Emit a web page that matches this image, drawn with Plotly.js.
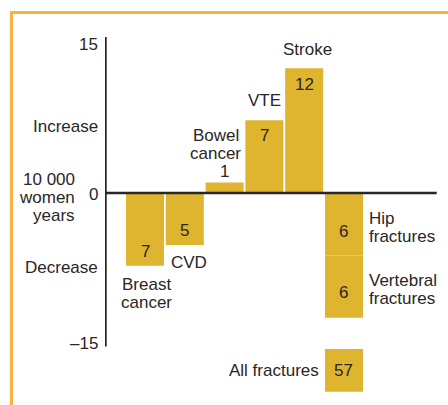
<!DOCTYPE html>
<html><head><meta charset="utf-8">
<script src="https://cdn.plot.ly/plotly-3.0.1.min.js"></script>
<style>html,body{margin:0;padding:0;background:#fff}#chart{width:448px;height:405px}</style>
</head><body><div id="chart"></div>
<script>
// ---- data ----
const categories = ['Breast cancer', 'CVD', 'Bowel cancer', 'VTE', 'Stroke', 'Hip fractures', 'Vertebral fractures'];
const labelLines = [['Breast', 'cancer'], ['CVD'], ['Bowel', 'cancer'], ['VTE'], ['Stroke'], ['Hip', 'fractures'], ['Vertebral', 'fractures']];
const values = [-7, -5, 1, 7, 12, -6, -6];   // events per 10 000 women years (+ increase, - decrease)
const bases = [0, 0, 0, 0, 0, 0, -6];        // vertebral stacked under hip
const positions = [0, 1, 2, 3, 4, 5, 5];
const allFracturesLabel = 'All fractures';
const allFracturesValue = 57;
const yTickVals = [15, 0, -15];
const yTickText = ['15', '0', '–15'];

// ---- style ----
const BAR = '#DFB42E', INK = '#2a2627', FRAME = '#FBB040';
const W = 0.955;
const FONT = {family: 'Liberation Sans, Arial, sans-serif', size: 17, color: INK};
const BOX_BASE = -15, BOX_H = -4.1;

const anns = [];
function ann(text, x, y, xs, ys, xa) {
  anns.push({text: text, x: x, y: y, xref: 'x', yref: 'y', xshift: xs || 0, yshift: ys || 0,
    xanchor: xa || 'center', yanchor: 'middle', showarrow: false, font: FONT, borderpad: 0});
}

// y tick labels
ann(yTickText[0], -1.005, yTickVals[0], -6, -7, 'right');
ann(yTickText[1], -1.005, yTickVals[1], -6, -1, 'right');
ann(yTickText[2], -1.005, yTickVals[2], -6, 5.5, 'right');
// axis side labels
ann('Increase', -1.005, 6.44, -6, 0, 'right');
ann('10 000', -1.005, 0, -29, 14, 'right');
ann('women', -1.005, 0, -29, -4, 'right');
ann('years', -1.005, 0, -29, -22, 'right');
ann('Decrease', -1.005, -7.2, -6, 0, 'right');

// value labels in/at bars
ann(String(Math.abs(values[0])), positions[0], values[0], 0, 14);
ann(String(Math.abs(values[1])), positions[1], values[1], 0, 15);
ann(String(Math.abs(values[2])), positions[2], values[2], 0, 11);
ann(String(Math.abs(values[3])), positions[3], values[3], 0, -15);
ann(String(Math.abs(values[4])), positions[4], values[4], 0, -16);
ann(String(Math.abs(values[5])), positions[5], bases[5] + values[5] / 2, 0, -7);
ann(String(Math.abs(values[6])), positions[6], bases[6] + values[6] / 2, 0, -6);
ann(String(allFracturesValue), positions[6], BOX_BASE + BOX_H / 2, 0, 0);

// category labels
labelLines[0].forEach((t, i) => ann(t, positions[0], values[0], 1, -19 - 18 * i));
ann(labelLines[1][0], positions[1], values[1], 4, -17);
labelLines[2].forEach((t, i) => ann(t, positions[2], values[2], -9, 47.5 - 18 * i));
ann(labelLines[3][0], positions[3], values[3], 0, 20);
ann(labelLines[4][0], positions[4], values[4], 3, 19);
labelLines[5].forEach((t, i) => ann(t, positions[5] + W / 2, bases[5], 5, -25.5 - 18 * i, 'left'));
labelLines[6].forEach((t, i) => ann(t, positions[6] + W / 2, bases[6], 5, -25.5 - 18 * i, 'left'));
ann(allFracturesLabel, positions[6] - W / 2, BOX_BASE + BOX_H / 2, -5, 0, 'right');

const traces = [
  {type: 'bar', x: positions, y: values, base: bases, width: W,
   marker: {color: BAR, line: {width: 0}}, hoverinfo: 'skip', text: categories, textposition: 'none'},
  {type: 'bar', x: [positions[6]], y: [BOX_H], base: [BOX_BASE], width: W,
   marker: {color: BAR, line: {width: 0}}, hoverinfo: 'skip', text: [allFracturesLabel], textposition: 'none'}
];

const pxL = 105, pxT = 37, pw = 332, ph = 364;
const px2paperX = p => (p - pxL) / pw;
const px2paperY = p => (pxT + ph - p) / ph;

const layout = {
  width: 448, height: 405,
  margin: {l: pxL, r: 448 - pxL - pw, t: pxT, b: 405 - pxT - ph, pad: 0},
  paper_bgcolor: '#fff', plot_bgcolor: '#fff',
  showlegend: false, barmode: 'overlay', font: FONT,
  xaxis: {range: [-1.005, 7.337], visible: false, fixedrange: true},
  yaxis: {range: [-20, 15], visible: false, fixedrange: true},
  annotations: anns,
  shapes: [
    {type: 'line', xref: 'paper', yref: 'paper', x0: px2paperX(10), x1: px2paperX(450), y0: px2paperY(12.5), y1: px2paperY(12.5), line: {color: FRAME, width: 3}},
    {type: 'line', xref: 'paper', yref: 'paper', x0: px2paperX(11.5), x1: px2paperX(11.5), y0: px2paperY(11), y1: px2paperY(407), line: {color: FRAME, width: 3}},
    {type: 'line', xref: 'x', yref: 'y', x0: -0.993, x1: -0.993, y0: 15.05, y1: -14.75, line: {color: INK, width: 2.5}},
    {type: 'line', xref: 'x', yref: 'y', x0: -0.993, x1: 7.33, y0: 0, y1: 0, line: {color: INK, width: 2.5}}
  ]
};

Plotly.newPlot('chart', traces, layout, {displayModeBar: false, staticPlot: true});
</script></body></html>
